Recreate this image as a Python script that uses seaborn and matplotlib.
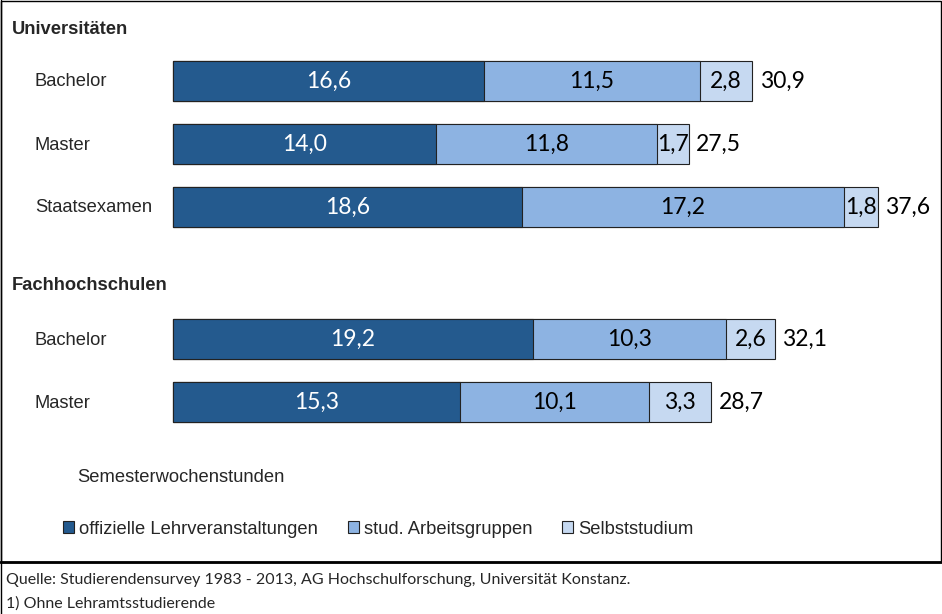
import matplotlib
matplotlib.use("Agg")
import matplotlib.pyplot as plt
from matplotlib.patches import Patch, Rectangle
import numpy as np
import pandas as pd
import seaborn as sns

# data (Semesterwochenstunden)
groups = ["Universitäten", "Fachhochschulen"]
labels = ["Bachelor", "Master", "Staatsexamen", "Bachelor", "Master"]
rows = [0, 1, 2, 4.1, 5.1]  # row slots, gap for the second heading
lehrveranstaltungen = [16.6, 14.0, 18.6, 19.2, 15.3]
arbeitsgruppen = [11.5, 11.8, 17.2, 10.3, 10.1]
selbststudium = [2.8, 1.7, 1.8, 2.6, 3.3]
gesamt = [30.9, 27.5, 37.6, 32.1, 28.7]
series = ["offizielle Lehrveranstaltungen", "stud. Arbeitsgruppen", "Selbststudium"]
colors = ["#245a8e", "#8db3e2", "#c6d9f1"]

df = pd.DataFrame({"row": rows, "label": labels,
                   "a": lehrveranstaltungen, "b": arbeitsgruppen, "c": selbststudium,
                   "total": gesamt})
df["ab"] = df["a"] + df["b"]
df["abc"] = df["ab"] + df["c"]

sns.set_style("white")
plt.rcParams["font.family"] = ["Liberation Sans", "DejaVu Sans"]

W, H = 942, 614
fig = plt.figure(figsize=(W / 100, H / 100), dpi=100)
ax = fig.add_axes([0, 0, 1, 1])

# pixel mapping: zero at x=173 px; row 0 at y=81 px, 63 px per row
px_per_unit = 18.75
xlim = (-173 / px_per_unit, (W - 173) / px_per_unit)
ylim = ((H - 81) / 63, -81 / 63)

bw = 40 / 63
for col, c in zip(["abc", "ab", "a"], colors[::-1]):
    sns.barplot(data=df, x=col, y="row", orient="h", native_scale=True,
                color=c, width=bw, edgecolor="#222222", linewidth=0.8,
                saturation=1, ax=ax)

ax.set_xlim(*xlim)
ax.set_ylim(*ylim)
ax.set_axis_off()

num_font = ["Lato", "DejaVu Sans"]
lab_font = ["Liberation Sans Narrow", "Liberation Sans"]
fmt = lambda v: f"{v:.1f}".replace(".", ",")
for _, r in df.iterrows():
    ax.text(r["a"] / 2, r["row"], fmt(r["a"]), ha="center", va="center",
            fontsize=16.5, color="white", family=num_font)
    ax.text(r["a"] + r["b"] / 2, r["row"], fmt(r["b"]), ha="center",
            va="center", fontsize=16.5, color="black", family=num_font)
    ax.text(r["ab"] + r["c"] / 2, r["row"], fmt(r["c"]), ha="center",
            va="center", fontsize=16.5, color="black", family=num_font)
    ax.text(r["abc"] + 0.4, r["row"], fmt(r["total"]), ha="left",
            va="center", fontsize=16.5, color="black", family=num_font)
    fig.text(35 / W, 1 - (82 + 63 * r["row"]) / H, r["label"], ha="left", va="center",
             fontsize=13.2, family=lab_font)

fig.text(12 / W, 1 - 29 / H, groups[0], ha="left", va="center", fontsize=13.2,
         fontweight="bold", family=lab_font)
fig.text(12 / W, 1 - 285 / H, groups[1], ha="left", va="center", fontsize=13.2,
         fontweight="bold", family=lab_font)
fig.text(77 / W, 1 - 478 / H, "Semesterwochenstunden", ha="left", va="center",
         fontsize=13.2, family=lab_font)

handles = [Patch(facecolor=c, edgecolor="#222222", linewidth=0.8) for c in colors]
fig.legend(handles, series, loc="center left", bbox_to_anchor=(50 / W, 1 - 529 / H),
           ncol=3, frameon=False, handlelength=0.6, handleheight=0.6, handletextpad=0.3,
           columnspacing=1.6, borderpad=0.2, prop={"family": lab_font, "size": 13.2})

fig.text(6 / W, 1 - 580 / H, "Quelle: Studierendensurvey 1983 - 2013, AG Hochschulforschung, Universität Konstanz.",
         ha="left", va="center", fontsize=11.5, family=num_font)
fig.text(6 / W, 1 - 604 / H, "1) Ohne Lehramtsstudierende", ha="left", va="center",
         fontsize=11.5, family=num_font)

# frame around chart area and footer
fig.add_artist(Rectangle((0.5 / W, 1 - 562 / H), 1 - 1.5 / W, 561 / H, transform=fig.transFigure,
                         fill=False, edgecolor="black", linewidth=1.0))
fig.add_artist(plt.Line2D([0, 1], [1 - 562 / H] * 2, transform=fig.transFigure, color="black", linewidth=2))
fig.add_artist(plt.Line2D([0.5 / W] * 2, [0, 1], transform=fig.transFigure, color="black", linewidth=1))

fig.savefig("out.png", dpi=100)
